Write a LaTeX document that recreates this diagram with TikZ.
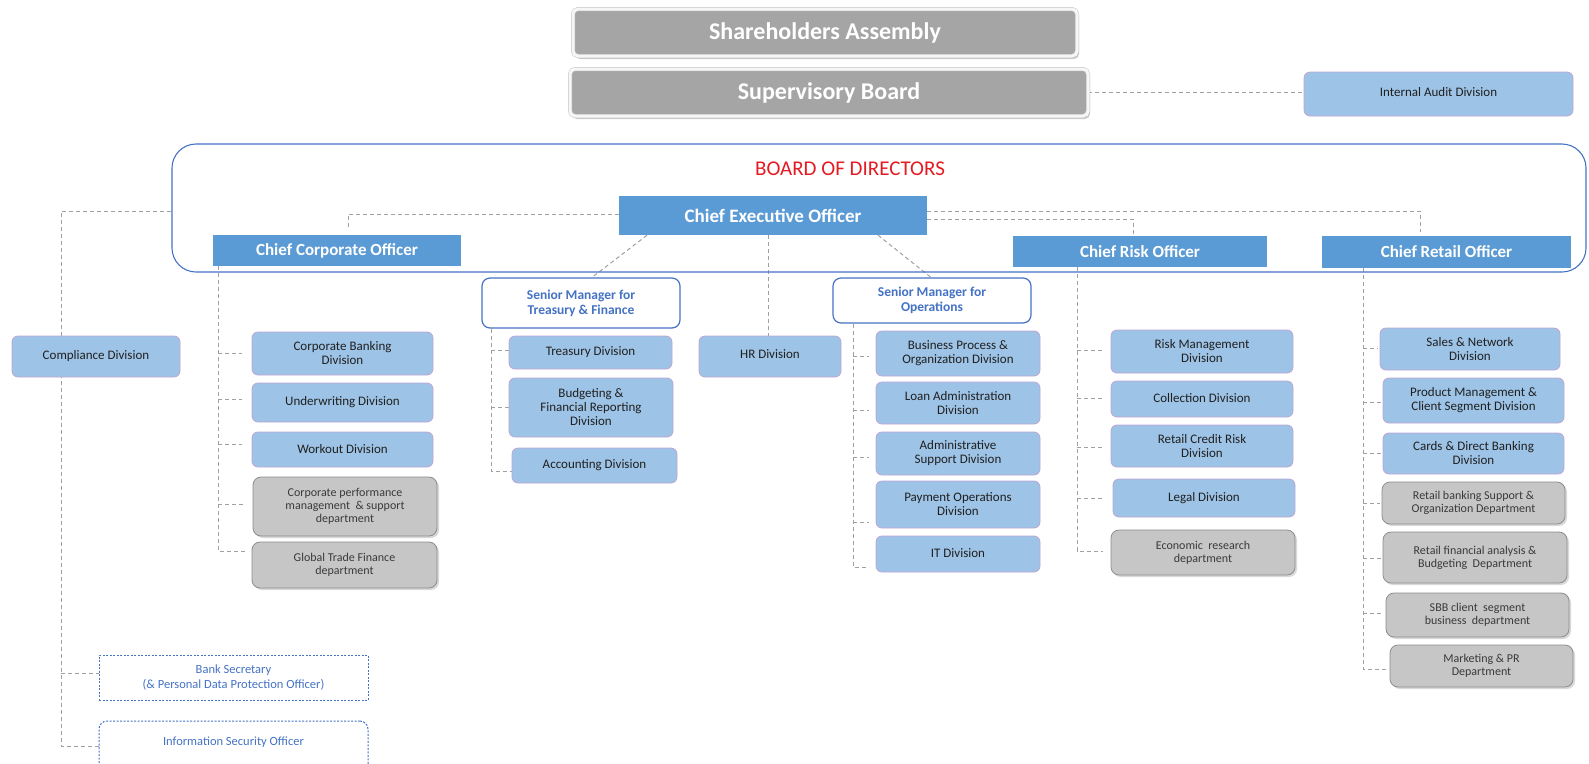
\documentclass[tikz,border=0pt]{standalone}
\usepackage{fontspec}
\setmainfont{Carlito}
\usetikzlibrary{shadows,backgrounds}
\definecolor{offblue}{HTML}{5B9BD5}
\definecolor{divblue}{HTML}{9DC3E6}
\definecolor{divedge}{HTML}{BFA4D4}
\definecolor{divtext}{HTML}{202020}
\definecolor{deptgray}{HTML}{C6C6C6}
\definecolor{deptedge}{HTML}{8C8C8C}
\definecolor{depttext}{HTML}{3A3A3A}
\definecolor{smblue}{HTML}{4472C4}
\definecolor{linkgray}{HTML}{A0A0A0}
\definecolor{bodred}{HTML}{E31B23}
\definecolor{topgray}{HTML}{A5A5A5}
\newcommand\orgbox[7]{\node[#2,minimum width=#5pt,minimum height=#6pt] (#1) at (#3,#4) {#7};}
\begin{document}
\begin{tikzpicture}[x=1pt,y=-1pt,
  topbox/.style={rounded corners=5pt,fill=topgray,draw=gray!45,double=gray!7,double distance=3pt,line width=0.5pt,
    text=white,font=\bfseries\fontsize{24}{28}\selectfont,inner sep=0pt,
    drop shadow={shadow xshift=2pt,shadow yshift=-3pt,opacity=0.35,fill=black!60}},
  officer/.style={fill=offblue,text=white,font=\bfseries\fontsize{17}{20}\selectfont,inner sep=0pt},
  divbox/.style={rounded corners=6pt,fill=divblue,draw=divedge,line width=0.8pt,text=divtext,
    font=\fontsize{13}{14}\selectfont,align=center,inner sep=0pt},
  deptbox/.style={rounded corners=8pt,fill=deptgray,draw=deptedge,line width=0.8pt,text=depttext,
    font=\fontsize{12}{13}\selectfont,align=center,inner sep=0pt,
    drop shadow={shadow xshift=2pt,shadow yshift=-2pt,opacity=0.3,fill=black!50}},
  smbox/.style={rounded corners=8pt,fill=white,draw=smblue,line width=1.2pt,text=smblue,
    font=\bfseries\fontsize{13.5}{15}\selectfont,align=center,inner sep=0pt},
  secbox/.style={draw=smblue,dash pattern=on 2pt off 1.5pt,line width=1pt,text=smblue,
    font=\fontsize{12.5}{15}\selectfont,align=center,inner sep=0pt},
  bodframe/.style={draw=smblue,line width=1.1pt,rounded corners=24pt,inner sep=0pt},
  link/.style={draw=linkgray,dash pattern=on 4pt off 3pt,line width=1pt}]
\useasboundingbox (0,0) rectangle (1589,763);

% top
\orgbox{sh}{topbox}{825}{32.5}{504}{47}{Shareholders Assembly}
\orgbox{sb}{topbox}{829}{92.5}{518}{47}{Supervisory Board}
\orgbox{ia}{divbox}{1438.5}{94}{269}{44}{\raisebox{5pt}{Internal Audit Division}}

% board of directors
\orgbox{bod}{bodframe}{879}{208}{1414}{128}{}
\node[text=bodred,font=\fontsize{21}{24}\selectfont] (bodt) at (850,169) {BOARD OF DIRECTORS};
\orgbox{ceo}{officer,font=\bfseries\fontsize{19}{22}\selectfont}{773}{215.5}{308}{39}{Chief Executive Officer}
\orgbox{cco}{officer}{337}{250.5}{248}{31}{Chief Corporate Officer}
\orgbox{cro}{officer}{1140}{251.5}{254}{31}{Chief Risk Officer}
\orgbox{cret}{officer}{1446.5}{252}{249}{32}{Chief Retail Officer}

% senior managers and HR
\orgbox{smtf}{smbox}{581}{303}{198}{50}{Senior Manager for\\Treasury \& Finance}
\orgbox{smops}{smbox}{932}{300.5}{198}{45}{Senior Manager for\\Operations}
\orgbox{hr}{divbox}{770}{356.5}{142}{41}{\raisebox{5pt}{HR Division}}

% treasury & finance
\orgbox{treas}{divbox}{590.5}{352.5}{163}{33}{Treasury Division}
\orgbox{budg}{divbox}{591}{407.5}{164}{59}{Budgeting \&\\Financial Reporting\\Division}
\orgbox{acct}{divbox}{594.5}{465.5}{165}{35}{Accounting Division}

% compliance
\orgbox{comp}{divbox}{96}{356.5}{168}{41}{\raisebox{4pt}{Compliance Division}}
\orgbox{bs}{secbox}{233.5}{677.5}{269}{45}{Bank Secretary\\(\& Personal Data Protection Officer)}
\orgbox{iso}{secbox,rounded corners=8pt}{233.5}{748}{269}{54}{\raisebox{13pt}{Information Security Officer}}

% corporate
\orgbox{cb}{divbox}{342.5}{353.5}{181}{43}{Corporate Banking\\Division}
\orgbox{uw}{divbox}{342.5}{402.5}{181}{39}{\raisebox{4pt}{Underwriting Division}}
\orgbox{wo}{divbox}{342.5}{449.5}{181}{35}{Workout Division}
\orgbox{cpm}{deptbox}{345}{506.5}{184}{59}{Corporate performance\\management \ \& support\\department}
\orgbox{gtf}{deptbox}{344.5}{565}{185}{46}{Global Trade Finance\\department}

% operations
\orgbox{bp}{divbox}{958}{353.5}{164}{45}{Business Process \&\\Organization Division}
\orgbox{la}{divbox}{958}{403}{164}{42}{Loan Administration\\Division}
\orgbox{adm}{divbox}{958}{453.5}{164}{43}{Administrative\\Support Division}
\orgbox{po}{divbox}{958}{504.5}{164}{47}{Payment Operations\\Division}
\orgbox{it}{divbox}{958}{554}{164}{36}{\raisebox{2pt}{IT Division}}

% risk
\orgbox{rm}{divbox}{1202}{351.5}{182}{43}{Risk Management\\Division}
\orgbox{col}{divbox}{1202}{399}{182}{36}{\raisebox{2pt}{Collection Division}}
\orgbox{rcr}{divbox}{1202}{446}{182}{42}{Retail Credit Risk\\Division}
\orgbox{leg}{divbox}{1204}{498}{182}{38}{\raisebox{2pt}{Legal Division}}
\orgbox{er}{deptbox}{1203}{552.5}{184}{45}{Economic \ research\\department}

% retail
\orgbox{sn}{divbox}{1470}{349}{180}{42}{Sales \& Network\\Division}
\orgbox{pm}{divbox}{1473.5}{400.5}{181}{45}{Product Management \&\\Client Segment Division}
\orgbox{cd}{divbox}{1473.5}{453.5}{181}{41}{Cards \& Direct Banking\\Division}
\orgbox{rbs}{deptbox}{1473.5}{503}{183}{42}{Retail banking Support \&\\Organization Department}
\orgbox{rfa}{deptbox}{1475}{557.5}{184}{51}{Retail financial analysis \&\\Budgeting \ Department}
\orgbox{sbb}{deptbox}{1477.5}{615}{183}{44}{SBB client \ segment\\business \ department}
\orgbox{mpr}{deptbox}{1481.5}{666}{183}{42}{Marketing \& PR\\Department}

\begin{pgfonlayer}{background}
\draw[link] (sb.east) -- (sb.east -| ia.west);
\draw[link,shorten >=7pt] (ceo.west |- 0,214) -| (cco.north -| 348,0);
\draw[link,shorten >=4pt] (ceo.east |- 0,211) -| (cret.north -| 1420,0);
\draw[link,shorten >=2pt] (ceo.east |- 0,219) -| (cro.north -| 1133,0);
\draw[link] (ceo.south -| 647,0) -- (smtf.north -| 592,0);
\draw[link] (ceo.south -| 768,0) -- (hr.north -| 768,0);
\draw[link] (ceo.south -| 878,0) -- (smops.north -| 931,0);
% compliance line
\draw[link] (bod.west |- 0,211) -- (61,211) -- (61,746) -- (iso.west |- 0,746);
\draw[link] (61,673) -- (bs.west |- 0,673);
% corporate
\draw[link,shorten >=7pt] (cco.south -| 218,0) -- (218,551) -- (gtf.west |- 0,551);
\foreach \n/\yy in {cb/353,uw/399,wo/444,cpm/504}
  \draw[link,shorten >=10pt] (218,\yy) -- (\n.west |- 0,\yy);
% treasury
\draw[link] (smtf.south -| 491,0) -- (491,471) -- (acct.west |- 0,471);
\foreach \n/\yy in {treas/350,budg/407}
  \draw[link] (491,\yy) -- (\n.west |- 0,\yy);
% operations
\draw[link,shorten >=7pt] (smops.south -| 853,0) -- (853,567) -- (it.west |- 0,567);
\foreach \n/\yy in {bp/356,la/410,adm/457,po/522}
  \draw[link,shorten >=7pt] (853,\yy) -- (\n.west |- 0,\yy);
% risk
\draw[link,shorten >=8pt] (cro.south -| 1077,0) -- (1077,551) -- (er.west |- 0,551);
\foreach \n/\yy in {rm/350,col/398,rcr/447,leg/498}
  \draw[link,shorten >=8pt] (1077,\yy) -- (\n.west |- 0,\yy);
% retail
\draw[link,shorten >=2pt] (cret.south -| 1363,0) -- (1363,669) -- (mpr.west |- 0,669);
\foreach \n/\yy in {sn/348,pm/402,cd/453,rbs/503,rfa/558,sbb/613}
  \draw[link,shorten >=2pt] (1363,\yy) -- (\n.west |- 0,\yy);
\end{pgfonlayer}
\end{tikzpicture}
\end{document}
